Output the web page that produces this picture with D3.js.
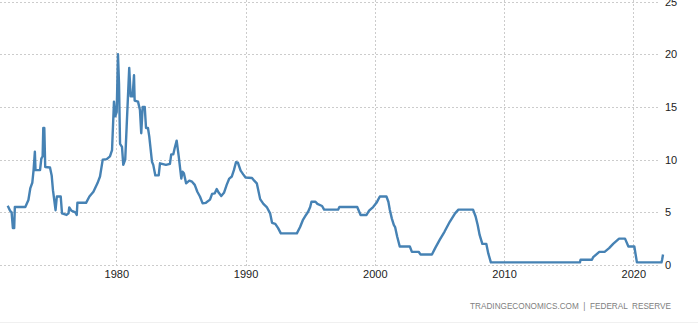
<!DOCTYPE html>
<html><head><meta charset="utf-8">
<script src="https://cdn.jsdelivr.net/npm/d3@7"></script>
<style>body{margin:0;background:#fff;}svg{display:block;font-family:"Liberation Sans",Arial,sans-serif;}</style>
</head><body>
<svg id="c" width="698" height="332"></svg>
<script>
const years = [1971.6,1971.78,1971.9,1972.0,1972.1,1972.15,1972.96,1973.2,1973.35,1973.5,1973.6,1973.7,1973.75,1974.1,1974.2,1974.3,1974.35,1974.43,1974.5,1974.87,1975.0,1975.1,1975.3,1975.4,1975.7,1975.8,1976.15,1976.3,1976.36,1976.52,1976.83,1976.94,1976.99,1977.66,1977.92,1978.23,1978.54,1978.74,1978.95,1979.26,1979.51,1979.67,1979.82,1979.92,1980.03,1980.13,1980.21,1980.29,1980.44,1980.54,1980.69,1980.8,1981.0,1981.11,1981.26,1981.37,1981.42,1981.68,1981.83,1981.93,1982.04,1982.2,1982.3,1982.45,1982.55,1982.76,1982.86,1983.02,1983.28,1983.38,1983.84,1984.15,1984.25,1984.41,1984.52,1984.67,1984.83,1985.03,1985.13,1985.23,1985.4,1985.65,1985.86,1986.07,1986.27,1986.47,1986.68,1986.93,1987.25,1987.41,1987.62,1987.77,1987.93,1988.12,1988.33,1988.54,1988.74,1988.94,1989.1,1989.26,1989.41,1989.62,1989.82,1990.0,1990.5,1990.67,1990.87,1991.13,1991.38,1991.64,1991.9,1992.05,1992.3,1992.52,1992.73,1993.97,1994.22,1994.43,1994.63,1994.84,1995.0,1995.1,1995.41,1995.56,1995.92,1996.08,1997.16,1997.26,1998.07,1998.64,1998.9,1999.36,1999.56,1999.87,2000.13,2000.39,2000.9,2001.05,2001.16,2001.32,2001.47,2001.57,2001.73,2001.93,2002.71,2002.87,2003.39,2003.54,2004.42,2004.67,2005.03,2005.39,2005.8,2006.21,2006.47,2007.6,2007.8,2007.96,2008.11,2008.32,2008.63,2008.78,2008.98,2015.87,2015.92,2016.8,2016.9,2017.37,2017.78,2018.13,2018.44,2018.9,2019.36,2019.62,2020.08,2020.18,2020.28,2022.18,2022.23,2022.3];
const rates = [5.63,5.15,5.0,3.5,3.5,5.5,5.5,6.17,7.3,7.8,9.0,10.75,9.0,9.0,10.1,10.3,13.0,13.0,9.3,9.25,8.5,7.1,5.2,6.5,6.5,4.9,4.75,4.9,5.47,5.15,5.0,4.75,5.9,5.9,6.5,6.95,7.75,8.4,10.0,10.05,10.3,10.9,15.5,14.1,14.5,20.0,17.2,11.5,11.2,9.5,10.0,13.1,18.7,16.0,16.0,18.0,15.6,15.5,14.7,12.5,15.0,15.0,13.0,13.0,12.2,9.8,9.5,8.5,8.5,9.65,9.5,9.6,10.5,10.5,11.1,11.8,10.3,8.2,8.85,8.7,7.75,8.0,7.9,7.6,6.95,6.5,5.85,5.9,6.2,6.75,6.8,7.2,6.85,6.55,6.85,7.6,8.2,8.4,9.0,9.75,9.7,8.95,8.6,8.3,8.25,8.0,7.75,6.25,5.8,5.5,4.9,4.0,3.9,3.5,3.0,3.0,3.6,4.25,4.65,5.05,5.5,6.0,6.0,5.8,5.6,5.25,5.25,5.5,5.5,5.5,4.75,4.75,5.15,5.5,5.9,6.5,6.5,6.0,5.25,4.4,3.8,3.6,2.7,1.75,1.75,1.25,1.25,1.0,1.0,1.6,2.4,3.15,4.1,4.9,5.25,5.25,4.6,3.8,2.85,2.0,2.0,1.1,0.25,0.25,0.5,0.5,0.75,1.25,1.25,1.6,2.0,2.5,2.5,1.75,1.75,1.0,0.25,0.25,0.5,1.0];
const xTicks = [1980,1990,2000,2010,2020];
const yTicks = [0,5,10,15,20,25];
const source = "TRADINGECONOMICS.COM  |  FEDERAL  RESERVE";

const svg = d3.select("#c");
const pxPerYear = 12.925;
const x = d3.scaleLinear().domain([1980 - 116.3/pxPerYear, 1980 + (660-116.3)/pxPerYear]).range([0,660]);
const y = d3.scaleLinear().domain([0,25]).range([265,1.5]);

const grid = svg.append("g").attr("stroke","#cccccc").attr("stroke-width",1).attr("stroke-dasharray","2,2");
grid.selectAll("line.h").data(yTicks).join("line")
  .attr("x1",0).attr("x2",660).attr("y1",d=>Math.round(y(d))+0.5).attr("y2",d=>Math.round(y(d))+0.5);
grid.selectAll("line.v").data(xTicks).join("line")
  .attr("x1",d=>Math.round(x(d))+0.5).attr("x2",d=>Math.round(x(d))+0.5).attr("y1",0).attr("y2",268);

const yAxis = svg.append("g").attr("transform","translate(660,0)")
  .call(d3.axisRight(y).tickValues(yTicks).tickSize(0).tickPadding(5).tickFormat(d3.format("d")));
yAxis.select(".domain").remove();
yAxis.selectAll("text").attr("font-size","11px").attr("fill","#222").attr("font-family","Liberation Sans, Arial, sans-serif");

const xAxis = svg.append("g").attr("transform","translate(0,265)")
  .call(d3.axisBottom(x).tickValues(xTicks).tickSize(0).tickPadding(5).tickFormat(d3.format("d")));
xAxis.select(".domain").remove();
xAxis.selectAll("text").attr("font-size","11px").attr("fill","#222").attr("font-family","Liberation Sans, Arial, sans-serif");

const line = d3.line().x((d,i)=>x(years[i])).y(d=>y(d));
svg.append("path").datum(rates).attr("d",line)
  .attr("fill","none").attr("stroke","#4682b4").attr("stroke-width",2.4).attr("stroke-linejoin","round");

svg.append("text").attr("x",671).attr("y",309).attr("text-anchor","end")
  .attr("font-size","8.2px").attr("fill","#808080")
  .attr("xml:space","preserve").style("white-space","pre").text(source);

svg.append("line").attr("x1",0).attr("x2",698).attr("y1",322.5).attr("y2",322.5).attr("stroke","#f0f0f0");
</script>
</body></html>
